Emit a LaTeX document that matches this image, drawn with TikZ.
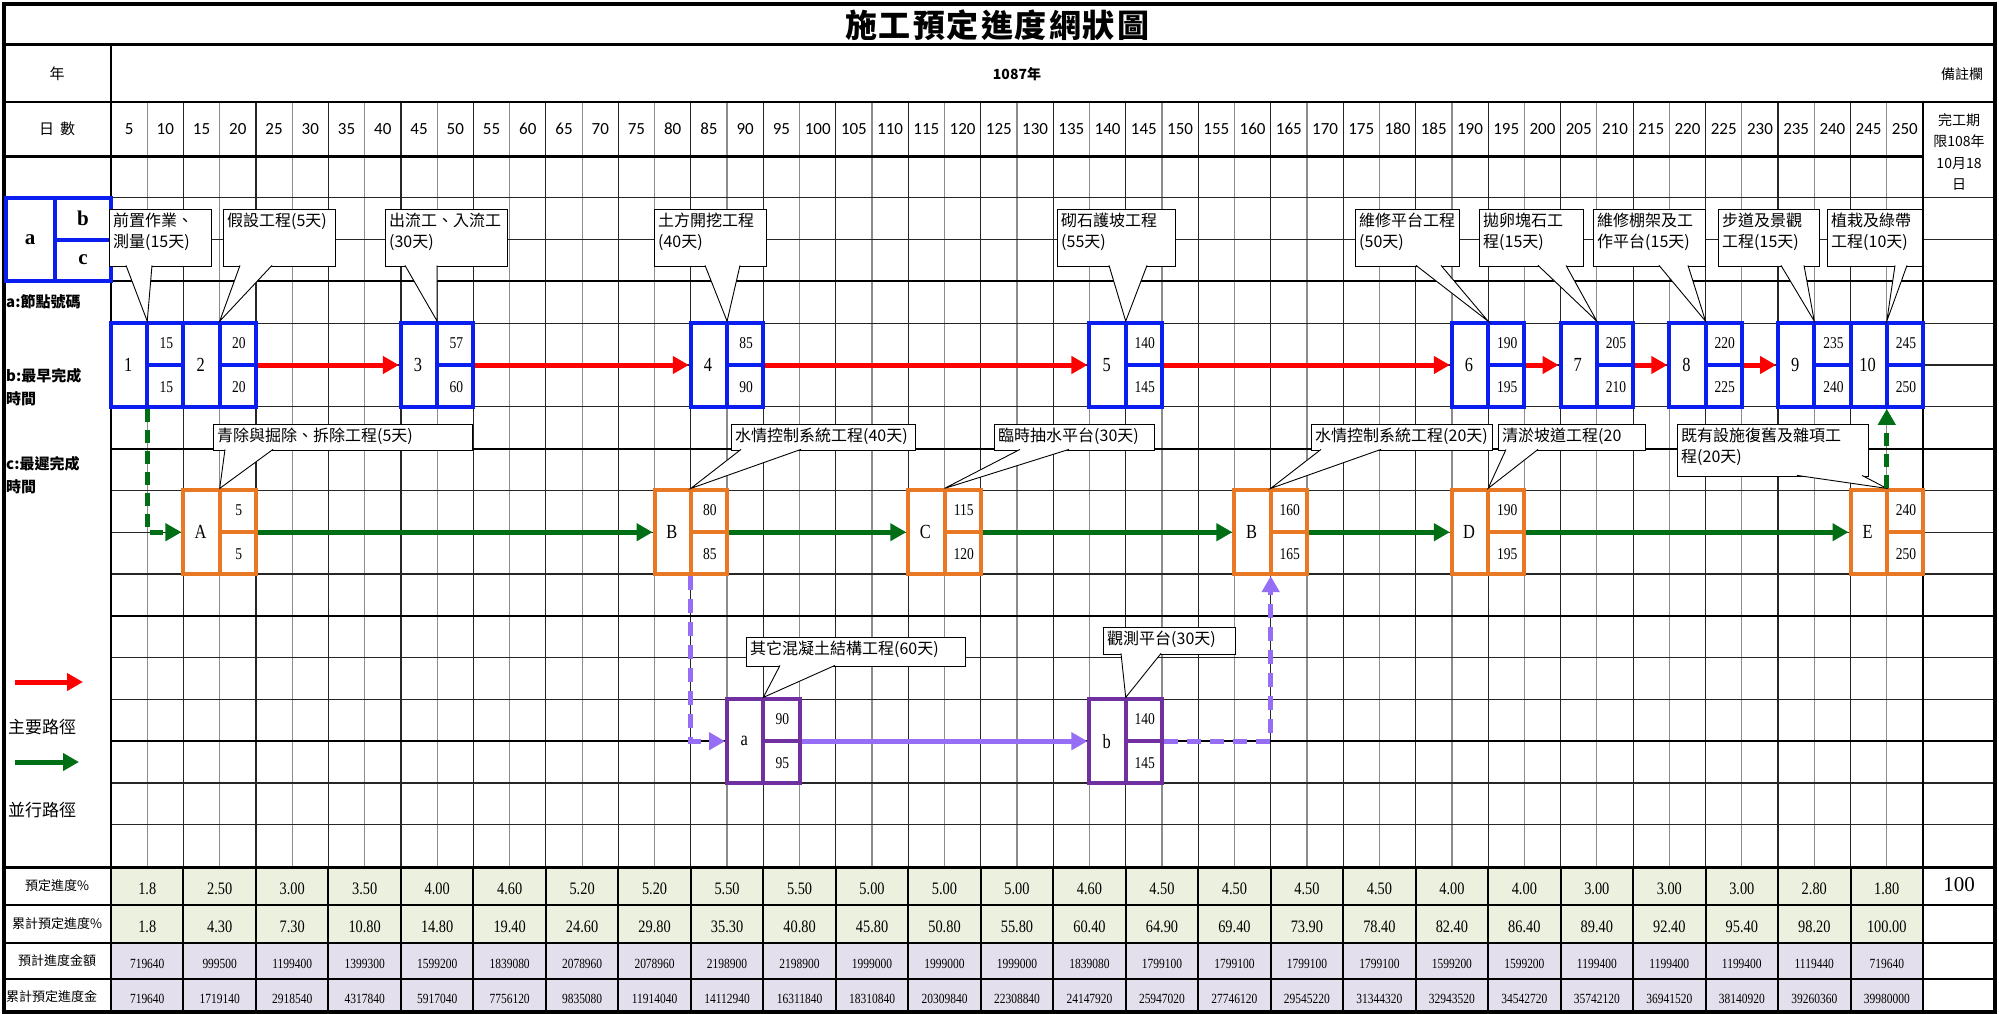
\documentclass[tikz,border=0pt]{standalone}
\usepackage{fontspec}
\setmainfont{Liberation Serif}
\newfontfamily\cjk{Noto Sans CJK TC}
\newfontfamily\calf{Carlito}
\newfontfamily\cserif[FakeStretch=0.82]{Liberation Serif}
\usetikzlibrary{arrows.meta,calc}
\definecolor{nblue}{RGB}{10,30,240}
\definecolor{norange}{RGB}{232,120,35}
\definecolor{npurple}{RGB}{112,48,160}
\definecolor{agreen}{RGB}{0,110,20}
\definecolor{aviolet}{RGB}{150,110,245}
\definecolor{cgreen}{RGB}{235,241,222}
\definecolor{cpurple}{RGB}{228,223,236}

\newcommand\mynetnode[7]{%
  \pgfmathsetmacro\nnx{111+36.24*#2+36.24}%
  \pgfmathsetmacro\nny{156+41.8*#3+41.8}%
  \node[netbox, draw=#4] (#1) at (\nnx,\nny) {};
  \draw[draw=#4, line width=4pt] (#1.north) -- (#1.south);
  \draw[draw=#4, line width=4pt] (#1.center) -- (#1.east);
  \node[nlabel] (#1-a) at ($(#1.west)!0.5!(#1.center)$) {#5};
  \node[nnum] (#1-b) at ($(#1.north)!0.5!(#1.east)$) {#6};
  \node[nnum] (#1-c) at ($(#1.south)!0.5!(#1.east)$) {#7};
}
\newcommand\mycallout[9]{%
  \node[cbox, minimum width=#4pt, minimum height=#5pt] (#1) at (#2,#3) {};
  \node[ctext] (#1-t) at ($(#1.north west)+(4,4)$) {#6};
  \filldraw[wedge] ($(#1.south west)+(#7,-1.5)$) -- (#9) -- ($(#1.south west)+(#8,-1.5)$);
}

\begin{document}
\begin{tikzpicture}[x=1pt,y=-1pt,
  gl/.style={line width=1.2pt, draw=black!85},
  glg/.style={line width=1.2pt, draw=black!45},
  netbox/.style={minimum width=72.48pt, minimum height=83.6pt, inner sep=0pt, fill=white, line width=4pt},
  nlabel/.style={font=\cserif\fontsize{20}{22}\selectfont, inner sep=0pt},
  nnum/.style={font=\cserif\fontsize{16.5}{18}\selectfont, inner sep=0pt},
  cbox/.style={draw=black, fill=white, line width=0.9pt, anchor=north west, inner sep=0pt},
  ctext/.style={anchor=north west, inner sep=0pt, align=left, font=\cjk\fontsize{16}{21}\selectfont},
  wedge/.style={draw=black, fill=white, line width=0.9pt},
  mainarr/.style={draw=red, line width=5pt, -{Triangle[length=16pt,width=17pt]}},
  pararr/.style={draw=agreen, line width=5pt, -{Triangle[length=16pt,width=17pt]}},
  paradash/.style={pararr, dash pattern=on 13pt off 8pt},
  subarr/.style={draw=aviolet, line width=5pt, -{Triangle[length=16pt,width=17pt]}},
  subdash/.style={subarr, dash pattern=on 14pt off 9pt},
  daynum/.style={font=\calf\fontsize{17}{19}\selectfont, inner sep=0pt},
  hdr/.style={font=\cjk\fontsize{15}{18}\selectfont, inner sep=0pt},
  side/.style={font=\cjk\bfseries\fontsize{15}{18}\selectfont, inner sep=0pt, anchor=west},
  tlabel/.style={font=\cjk\fontsize{13}{15}\selectfont, inner sep=0pt},
  tv1/.style={font=\cserif\fontsize{17.5}{19}\selectfont, inner sep=0pt},
  tv3/.style={font=\cserif\fontsize{14}{16}\selectfont, inner sep=0pt},
]
\useasboundingbox (0,0) rectangle (1999,1014);
\fill[white] (0,0) rectangle (1999,1014);

% table fills
\fill[cgreen] (111,867) rectangle (1923,943);
\fill[cpurple] (111,943) rectangle (1923,1014);

% grid
\foreach \i in {1,...,49} {
  \pgfmathsetmacro\xx{111+36.24*\i}
  \pgfmathtruncatemacro\odd{mod(\i,2)}
  \ifnum\odd=1 \draw[glg] (\xx,102) -- (\xx,867); \else \draw[gl] (\xx,102) -- (\xx,867); \fi
}
\foreach \k in {1,...,16} {
  \pgfmathsetmacro\yy{156+41.8*\k}
  \draw[gl] (111,\yy) -- (1995,\yy);
}
\foreach \k in {3,7,11,14} {
  \pgfmathsetmacro\yy{156+41.8*\k}
  \draw[line width=2pt] (111,\yy) -- (1995,\yy);
}
% table lines
\foreach \j in {1,...,24} {
  \pgfmathsetmacro\xx{111+72.48*\j}
  \draw[line width=2pt] (\xx,867) -- (\xx,1014);
}
\draw[line width=1.5pt] (4,905) -- (1995,905);
\draw[line width=2.2pt] (4,943) -- (1995,943);
\draw[line width=1.5pt] (4,979) -- (1995,979);
\draw[line width=3pt] (4,867) -- (1995,867);

% frame lines
\draw[line width=3pt] (4,45) -- (1995,45);
\draw[line width=1.5pt] (4,102) -- (1995,102);
\draw[line width=3pt] (4,156) -- (1923,156);
\draw[line width=2.5pt] (111,45) -- (111,1014);
\draw[line width=2.5pt] (1923,102) -- (1923,1014);
\draw[line width=3.5pt] (4,4) rectangle (1995,1012);

% header texts
\node[font=\cjk\bfseries\fontsize{32}{36}\selectfont, inner sep=0pt] (title) at (997,25) {施\hspace{2pt}工\hspace{2pt}預\hspace{2pt}定\hspace{2pt}進\hspace{2pt}度\hspace{2pt}網\hspace{2pt}狀\hspace{2pt}圖};
\node[hdr] (yearlbl) at (57,74) {年};
\node[font=\cjk\bfseries\fontsize{14}{16}\selectfont, inner sep=0pt] (yeartxt) at (1017,74) {1087年};
\node[font=\cjk\fontsize{14}{16}\selectfont, inner sep=0pt] (remark) at (1962,74) {備註欄};
\node[hdr] (daylbl) at (57,129) {日\hspace{6pt}數};
\foreach \i in {1,...,50} {
  \pgfmathtruncatemacro\dv{5*\i}
  \node[daynum] (d\i) at ({111+36.24*(\i-0.5)},129) {\dv};
}
\node[font=\cjk\fontsize{14}{21.5}\selectfont, inner sep=0pt, align=center] (deadline) at (1959,152) {完工期\\限108年\\10月18\\日};

% legend box
\draw[nblue, line width=4pt] (6,197.8) rectangle (111,281.4);
\draw[nblue, line width=4pt] (55,197.8) -- (55,281.4);
\draw[nblue, line width=4pt] (55,239.6) -- (111,239.6);
\node[font=\bfseries\fontsize{21}{24}\selectfont, inner sep=0pt] (lga) at (30,240) {a};
\node[font=\bfseries\fontsize{21}{24}\selectfont, inner sep=0pt] (lgb) at (83,218) {b};
\node[font=\bfseries\fontsize{21}{24}\selectfont, inner sep=0pt] (lgc) at (83,260) {c};
\node[side] (sa) at (6,302) {a:節點號碼};
\node[side] (sb1) at (6,376) {b:最早完成};
\node[side] (sb2) at (6,399) {時間};
\node[side] (sc1) at (6,464) {c:最遲完成};
\node[side] (sc2) at (6,487) {時間};

% path legend
\coordinate (lr1) at (15,682); \coordinate (lr2) at (83,682);
\draw[mainarr] (lr1) -- (lr2);
\node[font=\cjk\fontsize{17}{20}\selectfont, inner sep=0pt, anchor=west] (mainlbl) at (8,727) {主要路徑};
\coordinate (lg1) at (15,762); \coordinate (lg2) at (79,762);
\draw[pararr] (lg1) -- (lg2);
\node[font=\cjk\fontsize{17}{20}\selectfont, inner sep=0pt, anchor=west] (paralbl) at (8,810) {並行路徑};

% table labels
\node[tlabel] (t1) at (57,886) {預定進度\%};
\node[tlabel] (t2) at (57,924) {累計預定進度\%};
\node[tlabel] (t3) at (57,961) {預計進度金額};
\node[tlabel, anchor=west] (t4) at (6,997) {累計預定進度金};
\node[font=\fontsize{21}{23}\selectfont, inner sep=0pt] (total) at (1959,885) {100};

\foreach \v [count=\j] in {1.8,2.50,3.00,3.50,4.00,4.60,5.20,5.20,5.50,5.50,5.00,5.00,5.00,4.60,4.50,4.50,4.50,4.50,4.00,4.00,3.00,3.00,3.00,2.80,1.80}
  \node[tv1] (ra\j) at ({111+72.48*(\j-0.5)},889) {\v};
\foreach \v [count=\j] in {1.8,4.30,7.30,10.80,14.80,19.40,24.60,29.80,35.30,40.80,45.80,50.80,55.80,60.40,64.90,69.40,73.90,78.40,82.40,86.40,89.40,92.40,95.40,98.20,100.00}
  \node[tv1] (rb\j) at ({111+72.48*(\j-0.5)},927) {\v};
\foreach \v [count=\j] in {719640,999500,1199400,1399300,1599200,1839080,2078960,2078960,2198900,2198900,1999000,1999000,1999000,1839080,1799100,1799100,1799100,1799100,1599200,1599200,1199400,1199400,1199400,1119440,719640}
  \node[tv3] (rc\j) at ({111+72.48*(\j-0.5)},964) {\v};
\foreach \v [count=\j] in {719640,1719140,2918540,4317840,5917040,7756120,9835080,11914040,14112940,16311840,18310840,20309840,22308840,24147920,25947020,27746120,29545220,31344320,32943520,34542720,35742120,36941520,38140920,39260360,39980000}
  \node[tv3] (rd\j) at ({111+72.48*(\j-0.5)},999) {\v};

% network nodes
\mynetnode{n1}{0}{4}{nblue}{1}{15}{15}
\mynetnode{n2}{2}{4}{nblue}{2}{20}{20}
\mynetnode{n3}{8}{4}{nblue}{3}{57}{60}
\mynetnode{n4}{16}{4}{nblue}{4}{85}{90}
\mynetnode{n5}{27}{4}{nblue}{5}{140}{145}
\mynetnode{n6}{37}{4}{nblue}{6}{190}{195}
\mynetnode{n7}{40}{4}{nblue}{7}{205}{210}
\mynetnode{n8}{43}{4}{nblue}{8}{220}{225}
\mynetnode{n9}{46}{4}{nblue}{9}{235}{240}
\mynetnode{n10}{48}{4}{nblue}{10}{245}{250}
\mynetnode{nA}{2}{8}{norange}{A}{5}{5}
\mynetnode{nB}{15}{8}{norange}{B}{80}{85}
\mynetnode{nC}{22}{8}{norange}{C}{115}{120}
\mynetnode{nBB}{31}{8}{norange}{B}{160}{165}
\mynetnode{nD}{37}{8}{norange}{D}{190}{195}
\mynetnode{nE}{48}{8}{norange}{E}{240}{250}
\mynetnode{na}{17}{13}{npurple}{a}{90}{95}
\mynetnode{nb}{27}{13}{npurple}{b}{140}{145}

% callouts
\mycallout{c1}{109}{209}{102}{57}{前置作業、\\測量(15天)}{17}{43}{n1.north}
\mycallout{c2}{223}{209}{112}{57}{假設工程(5天)}{17}{49}{n2.north}
\mycallout{c3}{385}{209}{122}{57}{出流工、入流工\\(30天)}{20}{52}{n3.north}
\mycallout{c4}{654}{209}{112}{57}{土方開挖工程\\(40天)}{51}{86}{n4.north}
\mycallout{c5}{1057}{209}{118}{57}{砌石護坡工程\\(55天)}{52}{90}{n5.north}
\mycallout{c6}{1355}{209}{104}{57}{維修平台工程\\(50天)}{61}{86}{n6.north}
\mycallout{c7}{1479}{209}{104}{57}{拋卵塊石工\\程(15天)}{59}{87}{n7.north}
\mycallout{c8}{1593}{209}{112}{57}{維修棚架及工\\作平台(15天)}{66}{95}{n8.north}
\mycallout{c9}{1718}{209}{101}{57}{步道及景觀\\工程(15天)}{63}{86}{n9.north}
\mycallout{c10}{1827}{209}{95}{57}{植栽及綠帶\\工程(10天)}{68}{80}{n10.north}
\mycallout{c11}{213}{424}{259}{26}{青除與掘除、拆除工程(5天)}{12}{60}{nA.north}
\mycallout{c12}{731}{424}{184}{26}{水情控制系統工程(40天)}{10}{70}{nB.north}
\mycallout{c13}{994}{424}{160}{26}{臨時抽水平台(30天)}{26}{75}{nC.north}
\mycallout{c14}{1311}{424}{181}{26}{水情控制系統工程(20天)}{10}{70}{nBB.north}
\mycallout{c15}{1498}{424}{147}{26}{清淤坡道工程(20}{8}{40}{nD.north}
\mycallout{c16}{1677}{424}{191}{52}{既有設施復舊及雜項工\\程(20天)}{120}{185}{nE.north}
\mycallout{c17}{746}{637}{219}{29}{其它混凝土結構工程(60天)}{34}{89}{na.north}
\mycallout{c18}{1103}{627}{132}{27}{觀測平台(30天)}{18}{58}{nb.north}

% main path
\draw[mainarr] (n2.east) -- (n3.west);
\draw[mainarr] (n3.east) -- (n4.west);
\draw[mainarr] (n4.east) -- (n5.west);
\draw[mainarr] (n5.east) -- (n6.west);
\draw[mainarr] (n6.east) -- (n7.west);
\draw[mainarr] (n7.east) -- (n8.west);
\draw[mainarr] (n8.east) -- (n9.west);
% parallel path
\draw[paradash] (n1.south) |- (nA.west);
\draw[pararr] (nA.east) -- (nB.west);
\draw[pararr] (nB.east) -- (nC.west);
\draw[pararr] (nC.east) -- (nBB.west);
\draw[pararr] (nBB.east) -- (nD.west);
\draw[pararr] (nD.east) -- (nE.west);
\draw[paradash] (nE.north) -- (n10.south);
% sub path
\draw[subdash] (nB.south) |- (na.west);
\draw[subarr] (na.east) -- (nb.west);
\draw[subdash] (nb.east) -| (nBB.south);
\end{tikzpicture}
\end{document}
